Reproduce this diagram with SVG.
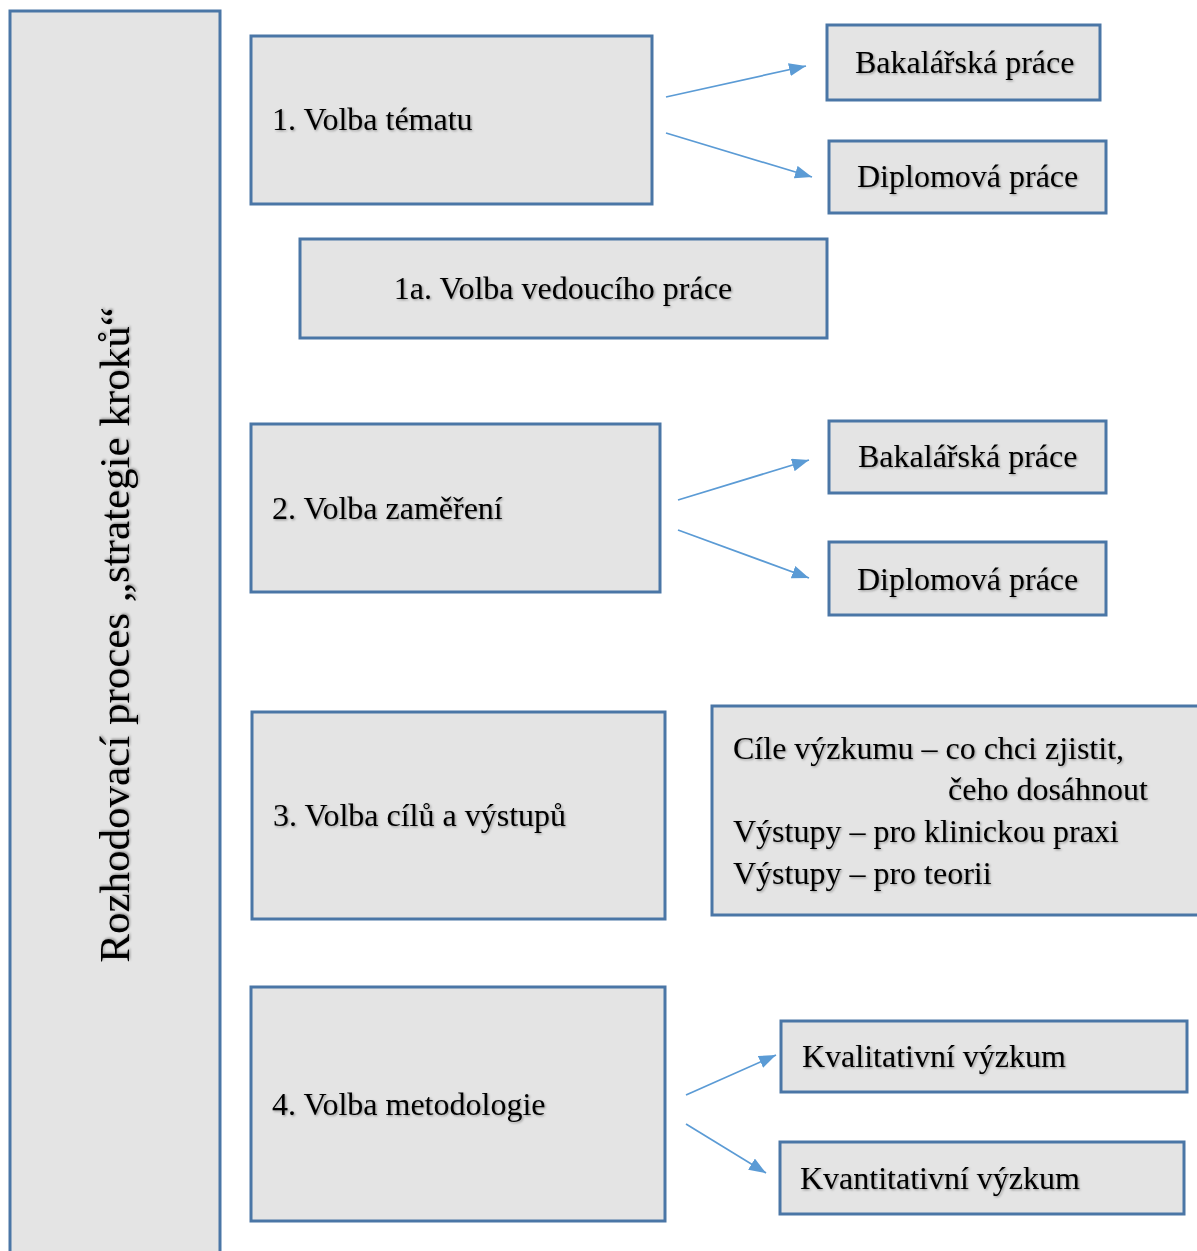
<svg xmlns="http://www.w3.org/2000/svg" width="1197" height="1251" viewBox="0 0 1197 1251">
  <style>
    .box { fill: #e4e4e4; stroke: #4a76a6; stroke-width: 3; }
    .lbl { font-family: "Liberation Serif", "Times New Roman", serif; font-size: 32px; fill: #000; filter: url(#shade); }
    .conn { stroke: #5b9bd5; stroke-width: 1.7; fill: none; marker-end: url(#arrow); }
  </style>
  <defs>
    <filter id="shade" x="-5%" y="-20%" width="110%" height="140%">
      <feDropShadow dx="1.2" dy="1.2" stdDeviation="0.9" flood-color="#000" flood-opacity="0.35"/>
    </filter>
    <marker id="arrow" viewBox="0 0 17 13" refX="17" refY="6.5" markerWidth="17" markerHeight="13" markerUnits="userSpaceOnUse" orient="auto">
      <path d="M0,0 L17,6.5 L0,13 Z" fill="#5b9bd5"/>
    </marker>
  </defs>

  <!-- side bar -->
  <g id="process">
    <rect class="box" x="10" y="11" width="210" height="1250"/>
    <text class="lbl" style="font-size:43px" transform="translate(129,635) rotate(-90)" text-anchor="middle">Rozhodovací proces „strategie kroků“</text>
  </g>

  <!-- step 1 -->
  <g id="step1">
    <rect class="box" x="251" y="36" width="401" height="168"/>
    <text class="lbl" x="272" y="130">1. Volba tématu</text>
  </g>
  <g id="step1-bc">
    <rect class="box" x="827" y="25" width="273" height="75"/>
    <text class="lbl" x="855" y="73">Bakalářská práce</text>
  </g>
  <g id="step1-dp">
    <rect class="box" x="829" y="141" width="277" height="72"/>
    <text class="lbl" x="857" y="187">Diplomová práce</text>
  </g>

  <!-- step 1a -->
  <g id="step1a">
    <rect class="box" x="300" y="239" width="527" height="99"/>
    <text class="lbl" x="563" y="299" text-anchor="middle">1a. Volba vedoucího práce</text>
  </g>

  <!-- step 2 -->
  <g id="step2">
    <rect class="box" x="251" y="424" width="409" height="168"/>
    <text class="lbl" x="272" y="519">2. Volba zaměření</text>
  </g>
  <g id="step2-bc">
    <rect class="box" x="829" y="421" width="277" height="72"/>
    <text class="lbl" x="858" y="467">Bakalářská práce</text>
  </g>
  <g id="step2-dp">
    <rect class="box" x="829" y="542" width="277" height="73"/>
    <text class="lbl" x="857" y="590">Diplomová práce</text>
  </g>

  <!-- step 3 -->
  <g id="step3">
    <rect class="box" x="252" y="712" width="413" height="207"/>
    <text class="lbl" x="273" y="826">3. Volba cílů a výstupů</text>
  </g>
  <g id="step3-goals">
    <rect class="box" x="712" y="706" width="490" height="209"/>
    <text class="lbl" x="733" y="759">Cíle výzkumu – co chci zjistit,</text>
    <text class="lbl" x="948" y="800">čeho dosáhnout</text>
    <text class="lbl" x="733" y="842">Výstupy – pro klinickou praxi</text>
    <text class="lbl" x="733" y="884">Výstupy – pro teorii</text>
  </g>

  <!-- step 4 -->
  <g id="step4">
    <rect class="box" x="251" y="987" width="414" height="234"/>
    <text class="lbl" x="272" y="1115">4. Volba metodologie</text>
  </g>
  <g id="step4-qual">
    <rect class="box" x="781" y="1021" width="406" height="71"/>
    <text class="lbl" x="802" y="1067">Kvalitativní výzkum</text>
  </g>
  <g id="step4-quant">
    <rect class="box" x="780" y="1142" width="404" height="72"/>
    <text class="lbl" x="800" y="1189">Kvantitativní výzkum</text>
  </g>

  <!-- connectors -->
  <g id="connectors">
    <line class="conn" x1="666" y1="97" x2="806" y2="66"/>
    <line class="conn" x1="666" y1="133" x2="812" y2="177"/>
    <line class="conn" x1="678" y1="500" x2="809" y2="460"/>
    <line class="conn" x1="678" y1="530" x2="809" y2="578"/>
    <line class="conn" x1="686" y1="1095" x2="776" y2="1055"/>
    <line class="conn" x1="686" y1="1124" x2="766" y2="1173"/>
  </g>
</svg>
